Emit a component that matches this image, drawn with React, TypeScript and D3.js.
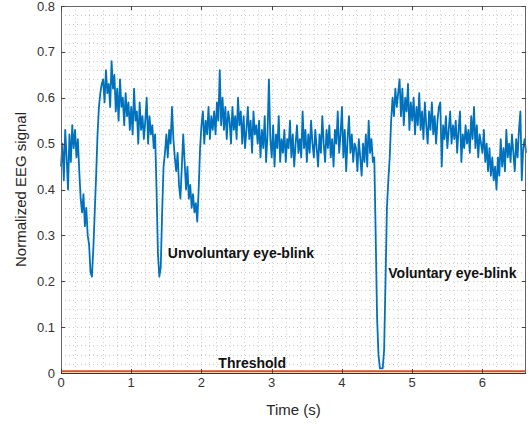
import React from "react";
import * as d3 from "d3";

// EEG samples, one every 0.02 s
const sampleStep = 0.02;
const eegSignal = [
  0.45, 0.50, 0.42, 0.53, 0.47, 0.40, 0.52, 0.46, 0.54, 0.49,
  0.53, 0.47, 0.51, 0.44, 0.38, 0.35, 0.39, 0.32, 0.36, 0.30,
  0.28, 0.22, 0.21, 0.27, 0.35, 0.43, 0.52, 0.58, 0.61, 0.63,
  0.64, 0.59, 0.66, 0.61, 0.63, 0.58, 0.68, 0.62, 0.65, 0.57,
  0.62, 0.55, 0.64, 0.58, 0.60, 0.54, 0.61, 0.56, 0.59, 0.53,
  0.58, 0.52, 0.62, 0.55, 0.57, 0.50, 0.59, 0.53, 0.56, 0.51,
  0.55, 0.60, 0.50, 0.56, 0.52, 0.54, 0.49, 0.52, 0.40, 0.26,
  0.21, 0.23, 0.35, 0.45, 0.48, 0.52, 0.47, 0.53, 0.50, 0.58,
  0.51, 0.47, 0.44, 0.48, 0.41, 0.38, 0.45, 0.52, 0.46, 0.40,
  0.45, 0.38, 0.41, 0.36, 0.39, 0.35, 0.37, 0.33, 0.40, 0.49,
  0.54, 0.57, 0.50, 0.55, 0.52, 0.58, 0.51, 0.56, 0.53, 0.57,
  0.52, 0.59, 0.55, 0.66, 0.54, 0.60, 0.53, 0.58, 0.51, 0.57,
  0.55, 0.50, 0.58, 0.53, 0.56, 0.51, 0.60, 0.54, 0.57, 0.50,
  0.56, 0.49, 0.53, 0.58, 0.51, 0.55, 0.48, 0.57, 0.52, 0.54,
  0.50, 0.55, 0.47, 0.53, 0.49, 0.56, 0.46, 0.52, 0.64, 0.51,
  0.47, 0.54, 0.45, 0.52, 0.49, 0.56, 0.46, 0.51, 0.48, 0.53,
  0.46, 0.51, 0.49, 0.55, 0.47, 0.52, 0.45, 0.50, 0.54, 0.48,
  0.51, 0.47, 0.57, 0.49, 0.53, 0.46, 0.52, 0.48, 0.55, 0.50,
  0.47, 0.53, 0.49, 0.45, 0.52, 0.48, 0.56, 0.50, 0.46, 0.53,
  0.49, 0.54, 0.47, 0.51, 0.45, 0.53, 0.50, 0.57, 0.48, 0.52,
  0.58, 0.47, 0.53, 0.44, 0.51, 0.56, 0.48, 0.52, 0.46, 0.50,
  0.49, 0.44, 0.51, 0.47, 0.43, 0.50, 0.46, 0.52, 0.45, 0.55,
  0.48, 0.51, 0.46, 0.47, 0.30, 0.12, 0.04, 0.01, 0.01, 0.01,
  0.05, 0.20, 0.36, 0.42, 0.47, 0.55, 0.60, 0.56, 0.62, 0.58,
  0.61, 0.64, 0.56, 0.62, 0.54, 0.60, 0.57, 0.63, 0.53, 0.59,
  0.55, 0.60, 0.52, 0.58, 0.54, 0.61, 0.53, 0.57, 0.51, 0.59,
  0.54, 0.50, 0.57, 0.53, 0.59, 0.52, 0.56, 0.50, 0.55, 0.58,
  0.59, 0.45, 0.54, 0.51, 0.56, 0.49, 0.53, 0.57, 0.50, 0.54,
  0.51, 0.55, 0.48, 0.53, 0.57, 0.46, 0.52, 0.49, 0.54, 0.50,
  0.53, 0.48, 0.56, 0.51, 0.58, 0.49, 0.54, 0.47, 0.52, 0.50,
  0.48, 0.53, 0.46, 0.50, 0.44, 0.49, 0.43, 0.47, 0.42, 0.45,
  0.40, 0.47, 0.43, 0.51, 0.45, 0.49, 0.44, 0.53, 0.47, 0.50,
  0.46, 0.52, 0.48, 0.44, 0.51, 0.47, 0.53, 0.57, 0.42, 0.49,
  0.51, 0.48,
];
const threshold = 0.004;
const xTicks = [0, 1, 2, 3, 4, 5, 6];
const yTicks = [0, 0.1, 0.2, 0.3, 0.4, 0.5, 0.6, 0.7, 0.8];
const annotations = [
  { text: "Unvoluntary eye-blink", t: 1.52, v: 0.25 },
  { text: "Voluntary eye-blink", t: 4.66, v: 0.207 },
  { text: "Threshold", t: 2.24, v: 0.011 },
];

const W = 528;
const H = 427;
const margin = { top: 6, right: 2, bottom: 54, left: 61 };
const font = "'Liberation Sans', Arial, Helvetica, sans-serif";

export default function App() {
  const x = d3.scaleLinear().domain([0, 6.62]).range([margin.left, W - margin.right]);
  const y = d3.scaleLinear().domain([0, 0.8]).range([H - margin.bottom, margin.top]);
  const [x0, x1] = x.range();
  const [y0, y1] = y.range();

  const minorX = d3.range(0, 6.62, 0.2);
  const minorY = d3.range(0, 0.8001, 0.02);

  const line = d3
    .line<number>()
    .x((d, i) => x(i * sampleStep))
    .y((d) => y(d));

  return (
    <svg width={W} height={H} style={{ position: "absolute", left: 0, top: 0, background: "#fff" }}>
      {/* minor grid */}
      <g stroke="#cdcdcd" strokeWidth={1} strokeDasharray="1,3">
        {minorX.map((t, i) => (
          <line key={"gx" + i} x1={Math.round(x(t)) + 0.5} x2={Math.round(x(t)) + 0.5} y1={y1} y2={y0} />
        ))}
        {minorY.map((v, i) => (
          <line key={"gy" + i} x1={x0} x2={x1} y1={Math.round(y(v)) + 0.5} y2={Math.round(y(v)) + 0.5} />
        ))}
      </g>

      {/* threshold */}
      <line x1={x0} x2={x1} y1={y(threshold)} y2={y(threshold)} stroke="#D95319" strokeWidth={2} />

      {/* signal */}
      <path d={line(eegSignal) || ""} fill="none" stroke="#0072BD" strokeWidth={1.8} strokeLinejoin="round" />

      {/* box and ticks */}
      <rect x={x0 + 0.5} y={y1 + 0.5} width={x1 - x0 - 1} height={y0 - y1} fill="none" stroke="#666" strokeWidth={1} />
      <g stroke="#444" strokeWidth={1}>
        {xTicks.map((t) => (
          <g key={"xt" + t}>
            <line x1={Math.round(x(t)) + 0.5} x2={Math.round(x(t)) + 0.5} y1={y0} y2={y0 - 4} />
            <line x1={Math.round(x(t)) + 0.5} x2={Math.round(x(t)) + 0.5} y1={y1} y2={y1 + 4} />
          </g>
        ))}
        {yTicks.map((v) => (
          <g key={"yt" + v}>
            <line x1={x0} x2={x0 + 4} y1={Math.round(y(v)) + 0.5} y2={Math.round(y(v)) + 0.5} />
            <line x1={x1} x2={x1 - 4} y1={Math.round(y(v)) + 0.5} y2={Math.round(y(v)) + 0.5} />
          </g>
        ))}
      </g>
      <line x1={x0} x2={x1} y1={y0 + 0.5} y2={y0 + 0.5} stroke="#333" strokeWidth={1} />

      {/* tick labels */}
      <g fontFamily={font} fontSize={13} fill="#333">
        {xTicks.map((t) => (
          <text key={"xl" + t} x={x(t)} y={y0 + 14} textAnchor="middle">
            {t}
          </text>
        ))}
        {yTicks.map((v) => (
          <text key={"yl" + v} x={x0 - 6} y={y(v) + 4.5} textAnchor="end">
            {v === 0 ? "0" : v.toFixed(1)}
          </text>
        ))}
      </g>

      {/* axis labels */}
      <text x={(x0 + x1) / 2} y={415} textAnchor="middle" fontFamily={font} fontSize={15} fill="#262626">
        Time (s)
      </text>
      <text
        transform={`translate(26,${(y0 + y1) / 2}) rotate(-90)`}
        textAnchor="middle"
        fontFamily={font}
        fontSize={15}
        fill="#262626"
      >
        Normalized EEG signal
      </text>

      {/* annotations */}
      {annotations.map((a) => (
        <text key={a.text} x={x(a.t)} y={y(a.v)} fontFamily={font} fontSize={14} fontWeight="bold" fill="#111">
          {a.text}
        </text>
      ))}
    </svg>
  );
}
